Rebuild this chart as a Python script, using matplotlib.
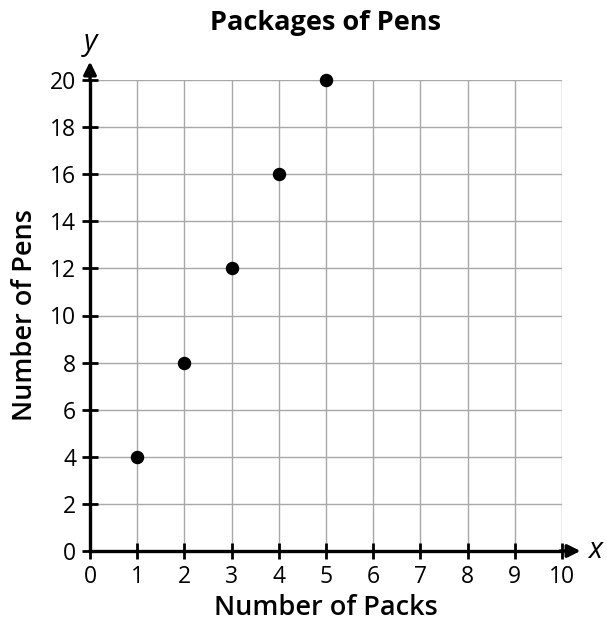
import matplotlib
matplotlib.use("Agg")
import matplotlib.pyplot as plt

packs = [1, 2, 3, 4, 5]
pens = [4, 8, 12, 16, 20]
x_ticks = list(range(0, 11))
y_ticks = list(range(0, 21, 2))

plt.rcParams["font.family"] = ["Open Sans", "DejaVu Sans"]

fig = plt.figure(figsize=(6.07, 6.27), dpi=100)
ax = fig.add_axes([90 / 607, 76 / 627, 472 / 607, 471 / 627])

ax.set_xlim(0, 10)
ax.set_ylim(0, 20)
ax.set_xticks(x_ticks)
ax.set_yticks(y_ticks)
ax.grid(True, color="#a8a8a8", linewidth=1)
ax.set_axisbelow(True)

for s in ["top", "right"]:
    ax.spines[s].set_visible(False)
for s in ["left", "bottom"]:
    ax.spines[s].set_linewidth(2.4)
    ax.spines[s].set_zorder(3)

ax.tick_params(direction="inout", length=12, width=2, labelsize=16.5, pad=4)

# arrows on the axes
ax.annotate("", xy=(10.45, 0), xytext=(9.9, 0), annotation_clip=False,
            arrowprops=dict(arrowstyle="-|>", color="black", lw=2.4, mutation_scale=19))
ax.annotate("", xy=(0, 20.9), xytext=(0, 19.9), annotation_clip=False,
            arrowprops=dict(arrowstyle="-|>", color="black", lw=2.4, mutation_scale=19))
ax.text(10.7, 0, "x", fontsize=21, style="italic", va="center", ha="center")
ax.text(0, 21.6, "y", fontsize=21, style="italic", va="center", ha="center")

ax.scatter(packs, pens, s=75, color="black", zorder=4, clip_on=False)

ax.set_title("Packages of Pens", fontsize=19.5, fontweight="bold", pad=36)
ax.set_xlabel("Number of Packs", fontsize=19.5, fontweight="semibold", labelpad=4)
ax.set_ylabel("Number of Pens", fontsize=19.5, fontweight="semibold", labelpad=8)

fig.savefig("out.png", dpi=100)
